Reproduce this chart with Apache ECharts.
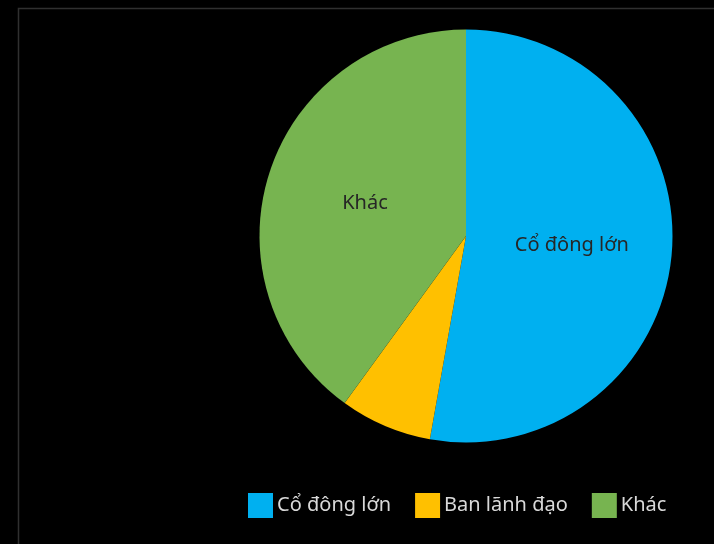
<!DOCTYPE html>
<html>
<head>
<meta charset="utf-8">
<style>
  html, body { margin: 0; padding: 0; background: #000; }
  #chart { width: 714px; height: 544px; }
</style>
<script src="https://cdn.jsdelivr.net/npm/echarts@6/dist/echarts.min.js"></script>
</head>
<body>
<div id="chart"></div>
<script>
// Shareholder structure
const categories = ['Cổ đông lớn', 'Ban lãnh đạo', 'Khác'];
const shares = [52.8, 7.2, 40.0];
const colors = ['#00B0F0', '#FFC000', '#77B450'];
const showLabel = [true, false, true];

const FONT = '"Noto Sans", "Open Sans", sans-serif';

const chart = echarts.init(document.getElementById('chart'), null, { renderer: 'canvas' });

chart.setOption({
  backgroundColor: '#000',
  animation: false,
  graphic: [{
    type: 'rect',
    silent: true,
    shape: { x: 18.5, y: 8.5, width: 800, height: 600 },
    style: { fill: 'none', stroke: '#303030', lineWidth: 1.5 }
  }],
  legend: {
    left: 248,
    top: 493,
    padding: 0,
    itemWidth: 25,
    itemHeight: 25,
    itemGap: 24,
    icon: 'rect',
    textStyle: { color: '#d9d9d9', fontSize: 20, fontFamily: FONT, padding: [0, 0, 0, -1] },
    data: categories
  },
  series: [{
    type: 'pie',
    center: [466, 236],
    radius: [0, 206.5],
    startAngle: 90,
    clockwise: true,
    label: {
      position: 'inside',
      formatter: '{b}',
      color: '#262626',
      fontSize: 20,
      fontFamily: FONT
    },
    labelLine: { show: false },
    itemStyle: { borderWidth: 0 },
    emphasis: { disabled: true },
    data: categories.map((name, i) => ({
      name,
      value: shares[i],
      itemStyle: { color: colors[i] },
      label: { show: showLabel[i] }
    }))
  }]
});
</script>
</body>
</html>
